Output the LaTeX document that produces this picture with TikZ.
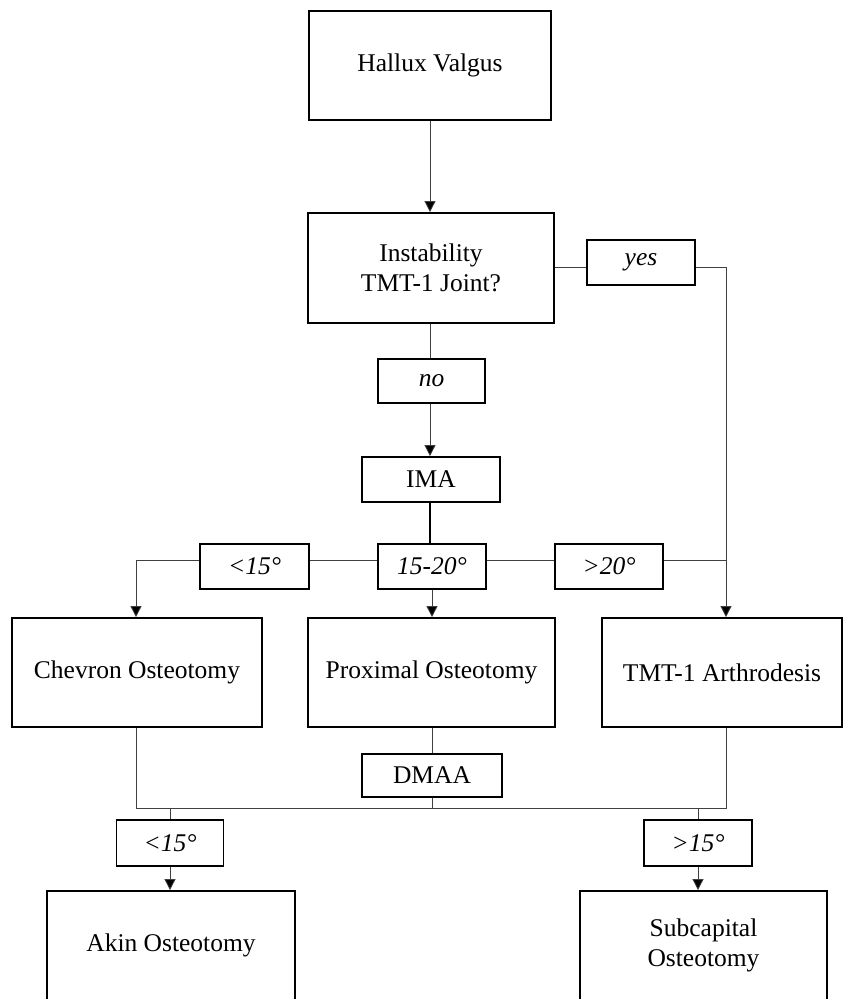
\documentclass[tikz,border=0pt]{standalone}
\usepackage{fontspec}
\setmainfont{Liberation Serif}
\usetikzlibrary{arrows.meta}
\begin{document}
\begin{tikzpicture}[x=1pt,y=-1pt,
  box/.style={draw=black,line width=1.8pt,inner sep=0pt,align=center,font=\fontsize{25.5}{30}\selectfont},
  big/.style={box,minimum height=109pt},
  lab/.style={box,minimum height=45pt,font=\fontsize{25.5}{30}\selectfont\itshape},
  conn/.style={draw=black!75,line width=0.8pt},
  arr/.style={conn,-{Triangle[length=11pt,width=11pt,fill=black]}}
]
\useasboundingbox (0,0) rectangle (844,999);
% main boxes
\node[big,minimum width=242pt] (hv) at (430,65.5) {Hallux Valgus};
\node[big,minimum width=246pt,minimum height=110pt] (inst) at (431,268) {Instability\\TMT-1 Joint?};
\node[lab,minimum width=108pt] (yes) at (641,262.5) {yes};
\node[lab,minimum width=107pt,minimum height=44pt] (no) at (431.5,381) {no};
\node[box,minimum width=138pt,minimum height=45pt] (ima) at (431,479.5) {IMA};
\node[lab,minimum width=109pt] (lt) at (254.5,566.5) {<15°};
\node[lab,minimum width=108pt] (mid) at (432,566.5) {15-20°};
\node[lab,minimum width=108pt] (gt) at (609,566.5) {>20°};
\node[big,minimum width=250pt] (chev) at (137,672.5) {Chevron Osteotomy};
\node[big,minimum width=247pt] (prox) at (431.5,672.5) {Proximal Osteotomy};
\node[big,minimum width=240pt] (tmt) at (722,672.5) {TMT-1 Arthrodesis};
\node[box,minimum width=140pt,minimum height=43pt] (dmaa) at (432,775.5) {DMAA};
\node[lab,minimum width=107pt,minimum height=46pt] (ltb) at (170,843) {<15°};
\node[lab,minimum width=108pt,minimum height=46pt] (gtb) at (698,843) {>15°};
\node[big,minimum width=248pt] (akin) at (171,945.5) {Akin Osteotomy};
\node[big,minimum width=247pt] (sub) at (703.5,945.5) {Subcapital\\Osteotomy};
% helper coordinates
\coordinate (yl) at (0,267);
\coordinate (hl) at (0,560);
\coordinate (bl) at (0,808);
\coordinate (cx) at (136,0);
\coordinate (tx) at (726,0);
\coordinate (mx) at (430,0);
% connectors
\draw[arr] (mx |- hv.south) -- (mx |- inst.north);
\draw[conn] (inst.east |- yl) -- (yes.west |- yl);
\draw[arr] (yes.east |- yl) -- (tx |- yl) -- (tx |- tmt.north);
\draw[conn] (mx |- inst.south) -- (mx |- no.north);
\draw[arr] (mx |- no.south) -- (mx |- ima.north);
\draw[draw=black,line width=1.2pt] (mx |- ima.south) -- (mx |- mid.north);
\draw[conn] (mid.west |- hl) -- (lt.east |- hl);
\draw[arr] (lt.west |- hl) -- (cx |- hl) -- (cx |- chev.north);
\draw[conn] (mid.east |- hl) -- (gt.west |- hl);
\draw[conn] (gt.east |- hl) -- (tx |- hl);
\draw[arr] (mid.south) -- (mid.south |- prox.north);
\draw[conn] (prox.south -| dmaa.north) -- (dmaa.north);
\draw[conn] (cx |- chev.south) -- (cx |- bl) -- (tx |- bl) -- (tx |- tmt.south);
\draw[conn] (dmaa.south) -- (dmaa.south |- bl);
\draw[conn] (ltb.north |- bl) -- (ltb.north);
\draw[conn] (gtb.north |- bl) -- (gtb.north);
\draw[arr] (ltb.south) -- (ltb.south |- akin.north);
\draw[arr] (gtb.south) -- (gtb.south |- sub.north);
\end{tikzpicture}
\end{document}
